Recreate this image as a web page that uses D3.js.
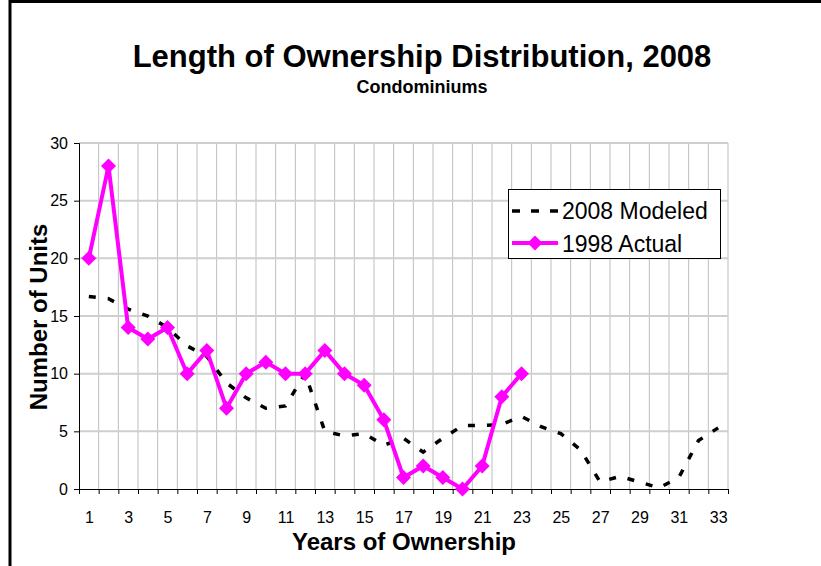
<!DOCTYPE html>
<html>
<head>
<meta charset="utf-8">
<script src="https://cdn.jsdelivr.net/npm/d3@7/dist/d3.min.js"></script>
<style>
  body { margin: 0; background: #fff; }
  svg text { font-family: Arial, "Liberation Sans", sans-serif; }
</style>
</head>
<body>
<div id="chart"></div>
<script>
// years of ownership (categories)
var years = d3.range(1, 34);
var yTicks = [0, 5, 10, 15, 20, 25, 30];
var xLabels = years.filter(function(d) { return d % 2 == 1; });

// 2008 Modeled, years 1..33
var modeled = [16.7, 16.5, 15.6, 15.0, 14.0, 12.4, 11.5, 9.2, 7.9, 7.0, 7.2, 10.0,
               5.0, 4.6, 4.8, 3.8, 4.4, 3.2, 4.4, 5.5, 5.5, 5.6, 6.3, 5.4, 4.8,
               3.4, 0.6, 1.1, 0.6, 0.1, 1.0, 4.2, 5.3];
// 1998 Actual, years 1..23
var actual = [20, 28, 14, 13, 14, 10, 12, 7, 10, 11, 10, 10, 12, 10, 9, 6,
              1, 2, 1, 0, 2, 8, 10];

var W = 821, H = 566;
var plot = { left: 79, right: 728, top: 143, bottom: 489 };

var svg = d3.select("#chart").append("svg")
    .attr("width", W)
    .attr("height", H);

// frame: left and top edges
svg.append("path")
    .attr("d", "M10," + H + "V1.5H" + W)
    .attr("fill", "none")
    .attr("stroke", "#000")
    .attr("stroke-width", 3);

// x is a category axis: boundaries at n +/- 0.5
var x = d3.scaleLinear().domain([0.5, 33.5]).range([plot.left, plot.right]);
var y = d3.scaleLinear().domain([0, 30]).range([plot.bottom, plot.top]);

var bounds = d3.range(0.5, 34, 1);

// grid
svg.append("g").selectAll("line")
    .data(bounds.slice(1))
    .enter().append("line")
    .attr("x1", function(d) { return x(d); })
    .attr("x2", function(d) { return x(d); })
    .attr("y1", plot.top)
    .attr("y2", plot.bottom)
    .attr("stroke", "#bdbdbd")
    .attr("stroke-width", 1);

svg.append("g").selectAll("line")
    .data(yTicks.slice(1))
    .enter().append("line")
    .attr("x1", plot.left)
    .attr("x2", plot.right)
    .attr("y1", function(d) { return y(d); })
    .attr("y2", function(d) { return y(d); })
    .attr("stroke", "#cfcfcf")
    .attr("stroke-width", 2);

// axes
var yAxis = svg.append("g")
    .attr("transform", "translate(" + plot.left + ",0)")
    .call(d3.axisLeft(y).tickValues(yTicks).tickSize(5).tickPadding(6));
yAxis.select(".domain").attr("stroke", "#000");
yAxis.selectAll("text").style("font-size", "16px").attr("fill", "#000");

var xTickAxis = svg.append("g")
    .attr("transform", "translate(0," + plot.bottom + ")")
    .call(d3.axisBottom(x).tickValues(bounds).tickSize(5).tickSizeOuter(0).tickFormat(""));

var xLabelAxis = svg.append("g")
    .attr("transform", "translate(0," + plot.bottom + ")")
    .call(d3.axisBottom(x).tickValues(xLabels).tickSize(0).tickPadding(23).tickFormat(d3.format("d")));
xLabelAxis.select(".domain").remove();
xLabelAxis.selectAll("text").style("font-size", "16px").attr("fill", "#000");

// modeled dashed line
var line = d3.line()
    .x(function(d, i) { return x(i + 1); })
    .y(function(d) { return y(d); });

svg.append("path")
    .datum(modeled)
    .attr("d", line)
    .attr("fill", "none")
    .attr("stroke", "#000")
    .attr("stroke-width", 3.5)
    .attr("stroke-dasharray", "7,12");

// actual line + diamonds
svg.append("path")
    .datum(actual)
    .attr("d", line)
    .attr("fill", "none")
    .attr("stroke", "#ff00ff")
    .attr("stroke-width", 4);

var diamond = "M0,-7.5L7.5,0L0,7.5L-7.5,0Z";
svg.append("g").selectAll("path")
    .data(actual)
    .enter().append("path")
    .attr("d", diamond)
    .attr("transform", function(d, i) { return "translate(" + x(i + 1) + "," + y(d) + ")"; })
    .attr("fill", "#ff00ff");

// titles
svg.append("text")
    .attr("x", 422).attr("y", 67)
    .attr("text-anchor", "middle")
    .style("font-size", "31px").style("font-weight", "bold")
    .text("Length of Ownership Distribution, 2008");

svg.append("text")
    .attr("x", 422).attr("y", 93)
    .attr("text-anchor", "middle")
    .style("font-size", "18px").style("font-weight", "bold")
    .text("Condominiums");

svg.append("text")
    .attr("transform", "translate(47,317) rotate(-90)")
    .attr("text-anchor", "middle")
    .style("font-size", "24px").style("font-weight", "bold")
    .text("Number of Units");

svg.append("text")
    .attr("x", 404).attr("y", 550)
    .attr("text-anchor", "middle")
    .style("font-size", "24px").style("font-weight", "bold")
    .text("Years of Ownership");

// legend
var legend = svg.append("g");
legend.append("rect")
    .attr("x", 508.5).attr("y", 189.5)
    .attr("width", 212).attr("height", 69)
    .attr("fill", "#fff")
    .attr("stroke", "#000");

legend.append("line")
    .attr("x1", 512).attr("x2", 560).attr("y1", 211).attr("y2", 211)
    .attr("stroke", "#000").attr("stroke-width", 3.5)
    .attr("stroke-dasharray", "8,11");
legend.append("text")
    .attr("x", 562).attr("y", 219)
    .style("font-size", "23px")
    .text("2008 Modeled");

legend.append("line")
    .attr("x1", 512).attr("x2", 558).attr("y1", 243).attr("y2", 243)
    .attr("stroke", "#ff00ff").attr("stroke-width", 4);
legend.append("path")
    .attr("d", diamond)
    .attr("transform", "translate(535,243)")
    .attr("fill", "#ff00ff");
legend.append("text")
    .attr("x", 562).attr("y", 252)
    .style("font-size", "23px")
    .text("1998 Actual");
</script>
</body>
</html>
